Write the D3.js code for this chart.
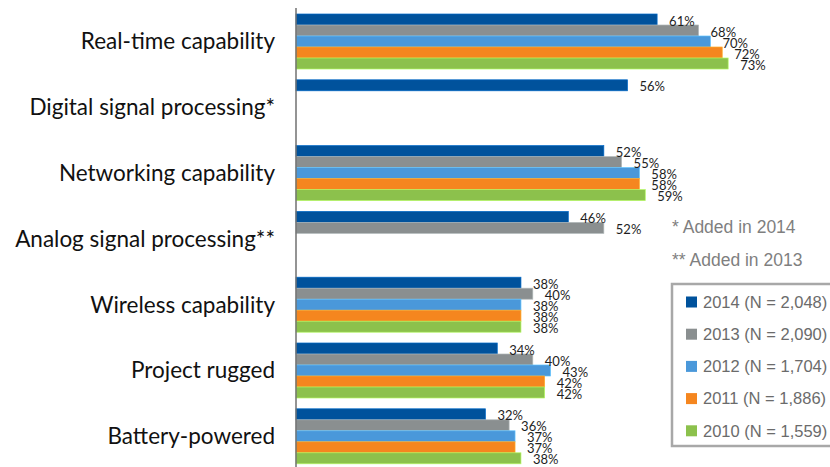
<!DOCTYPE html>
<html>
<head>
<meta charset="utf-8">
<script src="https://cdn.jsdelivr.net/npm/d3@7"></script>
<style>
  html, body { margin: 0; padding: 0; background: #ffffff; }
  svg { display: block; }
</style>
</head>
<body>
<svg id="chart" width="830" height="467"></svg>
<script>
// Features considered important, by survey year
const categories = [
  "Real-time capability",
  "Digital signal processing*",
  "Networking capability",
  "Analog signal processing**",
  "Wireless capability",
  "Project rugged",
  "Battery-powered"
];
const years = ["2014", "2013", "2012", "2011", "2010"];
const sampleSizes = ["2,048", "2,090", "1,704", "1,886", "1,559"];
const colors = ["#00529c", "#8a8f90", "#4a98da", "#f5861f", "#8cc14c"];

// Percent of respondents; null where the item was not asked that year
const v2014 = [61, 56, 52, 46, 38, 34, 32];
const v2013 = [68, null, 55, 52, 40, 40, 36];
const v2012 = [70, null, 58, null, 38, 43, 37];
const v2011 = [72, null, 58, null, 38, 42, 37];
const v2010 = [73, null, 59, null, 38, 42, 38];
const seriesValues = [v2014, v2013, v2012, v2011, v2010];

const notes = ["* Added in 2014", "** Added in 2013"];

const svg = d3.select("#chart");
const labelFont = "Lato, 'Open Sans', sans-serif";
const noteFont = "'Liberation Sans', Arial, sans-serif";

const axisX = 296;
const x = d3.scaleLinear().domain([0, 100]).range([axisX, axisX + 592]);
const y = d3.scaleBand().domain(categories).range([14, 463.8]).paddingInner(0.164).paddingOuter(0);
const yInner = d3.scaleBand().domain(years).range([0, y.bandwidth()]).padding(0);

const rows = [];
categories.forEach((c, ci) => {
  years.forEach((yr, si) => {
    const v = seriesValues[si][ci];
    if (v != null) rows.push({ cat: c, year: yr, color: colors[si], value: v });
  });
});

// Bars
svg.append("g").selectAll("rect")
  .data(rows)
  .join("rect")
  .attr("x", axisX)
  .attr("y", d => y(d.cat) + yInner(d.year))
  .attr("width", d => x(d.value) - axisX)
  .attr("height", yInner.bandwidth())
  .attr("fill", d => d.color)
  .attr("stroke", d => d3.color(d.color).brighter(0.7))
  .attr("stroke-width", 0.7);

// Value labels
svg.append("g").selectAll("text")
  .data(rows)
  .join("text")
  .attr("x", d => x(d.value) + 12)
  .attr("y", d => y(d.cat) + yInner(d.year) + yInner.bandwidth() / 2 + 1.5)
  .attr("dy", "0.35em")
  .attr("font-family", labelFont)
  .attr("font-size", 13)
  .attr("fill", "#1e1e1e")
  .text(d => d.value + "%");

// Vertical axis line
svg.append("line")
  .attr("x1", axisX).attr("x2", axisX)
  .attr("y1", 8).attr("y2", 467)
  .attr("stroke", "#707070")
  .attr("stroke-width", 1.5);

// Category labels
svg.append("g").selectAll("text")
  .data(categories)
  .join("text")
  .attr("x", 275)
  .attr("y", d => y(d) + y.bandwidth() / 2)
  .attr("dy", "0.35em")
  .attr("text-anchor", "end")
  .attr("font-family", labelFont)
  .attr("font-size", 22.5)
  .attr("fill", "#111111")
  .text(d => d);

// Footnotes
svg.append("g").selectAll("text")
  .data(notes)
  .join("text")
  .attr("x", 672)
  .attr("y", (d, i) => 227 + i * 33)
  .attr("dy", "0.35em")
  .attr("font-family", noteFont)
  .attr("font-size", 17.5)
  .attr("fill", "#7f7f7f")
  .text(d => d);

// Legend
const legend = svg.append("g");
legend.append("rect")
  .attr("x", 672).attr("y", 284)
  .attr("width", 170).attr("height", 162)
  .attr("fill", "#ffffff")
  .attr("stroke", "#a8a8a8")
  .attr("stroke-width", 2.5);
const items = legend.selectAll("g.item")
  .data(years)
  .join("g")
  .attr("class", "item")
  .attr("transform", (d, i) => `translate(686, ${302 + i * 32.2})`);
items.append("rect")
  .attr("x", 0).attr("y", -5.5)
  .attr("width", 11).attr("height", 11)
  .attr("fill", (d, i) => colors[i]);
items.append("text")
  .attr("x", 17)
  .attr("y", 0)
  .attr("dy", "0.35em")
  .attr("font-family", noteFont)
  .attr("font-size", 16.5)
  .attr("fill", "#6b6b6b")
  .text((d, i) => `${d} (N = ${sampleSizes[i]})`);
</script>
</body>
</html>
